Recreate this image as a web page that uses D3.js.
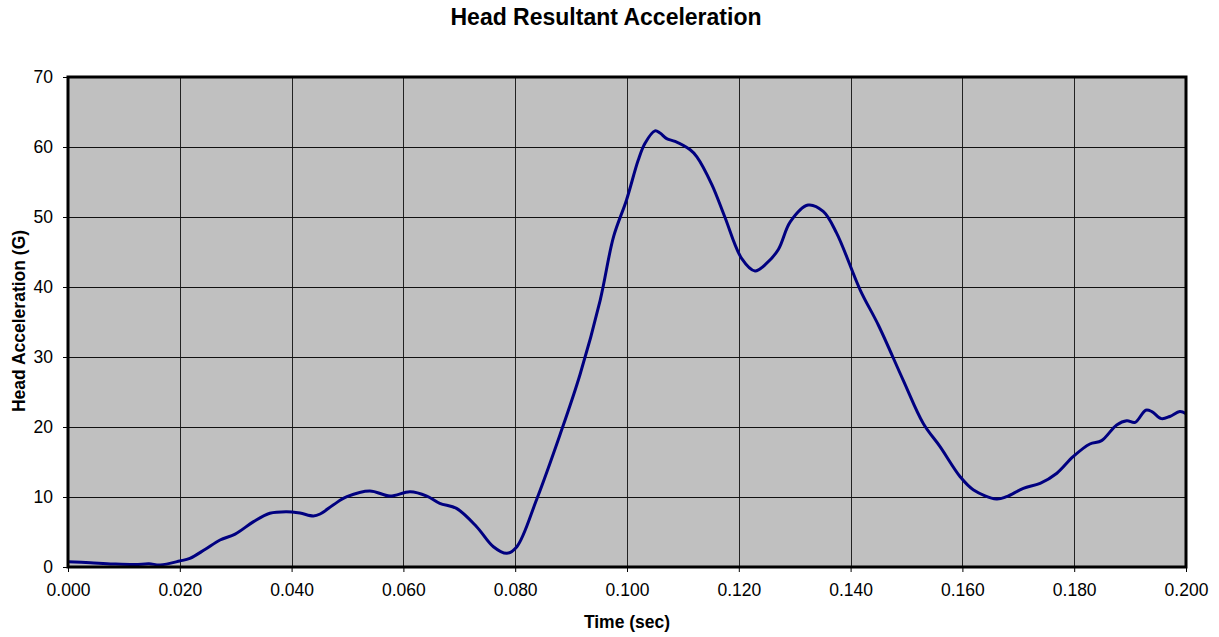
<!DOCTYPE html>
<html><head><meta charset="utf-8">
<script src="https://cdn.jsdelivr.net/npm/d3@7"></script>
<style>body{margin:0;background:#fff;font-family:"Liberation Sans",Arial,sans-serif}</style>
</head><body><svg id="c" width="1219" height="637"></svg>
<script>
const timeSec = [0,0.004,0.0081,0.012,0.0145,0.0165,0.02,0.0218,0.0245,0.0272,0.0299,0.0332,0.0361,0.0391,0.0415,0.0439,0.0451,0.0475,0.0499,0.054,0.0576,0.0612,0.0642,0.0665,0.0695,0.0731,0.0761,0.0785,0.0803,0.0838,0.088,0.0916,0.0952,0.0976,0.0999,0.102,0.1032,0.105,0.1059,0.1071,0.1086,0.1113,0.1125,0.1152,0.1175,0.1205,0.1229,0.125,0.1271,0.1292,0.1324,0.1351,0.1375,0.1417,0.145,0.1494,0.153,0.156,0.1596,0.162,0.1661,0.1679,0.1709,0.1739,0.1769,0.1798,0.1828,0.1849,0.1876,0.1894,0.1909,0.1928,0.1939,0.1956,0.1971,0.1989,0.2];
const accelG = [0.76,0.6,0.43,0.35,0.45,0.3,0.86,1.24,2.5,3.86,4.7,6.48,7.67,7.9,7.7,7.29,7.57,8.9,10.04,10.86,10.14,10.76,10.14,9.1,8.38,5.76,2.9,1.96,2.9,9.57,18.86,27.5,38.1,47.2,52.4,58.1,60.5,62.3,62.0,61.2,60.8,59.6,58.6,54.6,50.0,44.1,42.3,43.4,45.4,49.3,51.7,50.8,47.7,39.6,34.5,26.7,20.5,17.2,12.9,11.0,9.71,10.05,11.24,11.95,13.4,15.76,17.57,18.05,20.3,20.9,20.67,22.4,22.2,21.2,21.5,22.2,21.9];
const xTicks = [0,0.02,0.04,0.06,0.08,0.10,0.12,0.14,0.16,0.18,0.20];
const yTicks = [0,10,20,30,40,50,60,70];
const titleText = "Head Resultant Acceleration";
const xLabel = "Time (sec)";
const yLabel = "Head Acceleration (G)";

const FONT = "Liberation Sans, Arial, sans-serif";
const svg = d3.select("#c");
const L=68,R=1186,T=77,B=567;
const x = d3.scaleLinear().domain([0,0.2]).range([L,R]);
const y = d3.scaleLinear().domain([0,70]).range([B,T]);

svg.append("rect").attr("x",L).attr("y",T).attr("width",R-L).attr("height",B-T).attr("fill","#c0c0c0");

const g = svg.append("g");
g.selectAll(".vg").data(xTicks.slice(1,-1)).join("line")
 .attr("x1",d=>Math.round(x(d))+0.5).attr("x2",d=>Math.round(x(d))+0.5).attr("y1",T).attr("y2",B)
 .attr("stroke","#222").attr("stroke-width",1);
g.selectAll(".hg").data(yTicks.slice(1,-1)).join("line")
 .attr("y1",d=>Math.round(y(d))+0.5).attr("y2",d=>Math.round(y(d))+0.5).attr("x1",L).attr("x2",R)
 .attr("stroke","#111").attr("stroke-width",1);

const line = d3.line().x((d,i)=>x(timeSec[i])).y(d=>y(d)).curve(d3.curveCatmullRom.alpha(0.5));
svg.append("path").attr("d",line(accelG)).attr("fill","none").attr("stroke","#000080").attr("stroke-width",3).attr("stroke-linejoin","round");

svg.append("rect").attr("x",L).attr("y",T).attr("width",R-L).attr("height",B-T).attr("fill","none").attr("stroke","#000").attr("stroke-width",3);

const xa = d3.axisBottom(x).tickValues(xTicks).tickFormat(d3.format(".3f")).tickSize(5).tickPadding(12);
const xg = svg.append("g").attr("transform",`translate(0,${B})`).call(xa);
xg.select(".domain").remove();
xg.selectAll("text").attr("font-size","17.5px").attr("font-family",FONT).attr("fill","#000");
xg.selectAll("line").attr("stroke","#000");

const ya = d3.axisLeft(y).tickValues(yTicks).tickSize(5).tickPadding(10);
const yg = svg.append("g").attr("transform",`translate(${L},0)`).call(ya);
yg.select(".domain").remove();
yg.selectAll("text").attr("font-size","17.5px").attr("font-family",FONT).attr("fill","#000");
yg.selectAll("line").attr("stroke","#000");

svg.append("text").attr("x",606).attr("y",25).attr("text-anchor","middle").attr("font-weight","bold").attr("font-size","23px").attr("font-family",FONT).text(titleText);
svg.append("text").attr("x",627).attr("y",628).attr("text-anchor","middle").attr("font-weight","bold").attr("font-size","17.5px").attr("font-family",FONT).text(xLabel);
svg.append("text").attr("transform","translate(25,321) rotate(-90)").attr("text-anchor","middle").attr("font-weight","bold").attr("font-size","17.5px").attr("font-family",FONT).text(yLabel);
</script></body></html>
